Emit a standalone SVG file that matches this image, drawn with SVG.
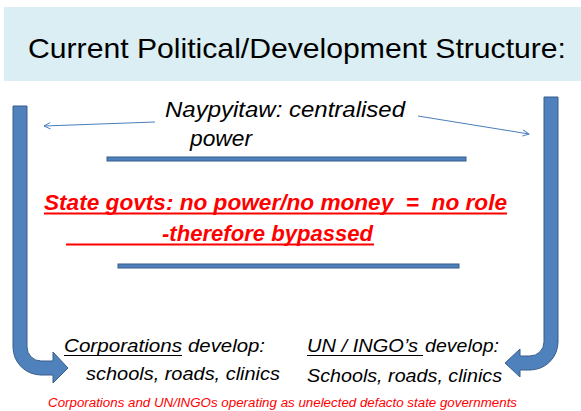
<svg xmlns="http://www.w3.org/2000/svg" width="581" height="411" viewBox="0 0 581 411">
<defs>
<style>
text{font-family:"Liberation Sans",Arial,sans-serif;white-space:pre;}
.blk{fill:#000;font-style:italic;}
.red{fill:#FF0000;font-style:italic;}
.bar{fill:#4F81BD;stroke:#385D8A;stroke-width:1;}
.thin{stroke:#4A7EBB;stroke-width:1;fill:none;}
.ul{stroke:#FF0000;stroke-width:2;}
.ulk{stroke:#000;stroke-width:1;}
</style>
<marker id="open" viewBox="0 0 10 10" refX="9" refY="5" markerWidth="8" markerHeight="8" orient="auto" markerUnits="userSpaceOnUse">
<path d="M1,1 L9,5 L1,9" fill="none" stroke="#4A7EBB" stroke-width="1.2"/>
</marker>
</defs>
<rect width="581" height="411" fill="#fff"/>
<g id="title">
<rect x="4" y="7" width="577" height="74" fill="#DAEEF3"/>
<text x="28" y="58" font-size="28" textLength="538" lengthAdjust="spacingAndGlyphs">Current Political/Development Structure:</text>
</g>
<g id="naypyitaw">
<text class="blk" x="165" y="117" font-size="22" textLength="240" lengthAdjust="spacingAndGlyphs">Naypyitaw: centralised</text>
<text class="blk" x="190" y="146" font-size="22" textLength="62" lengthAdjust="spacingAndGlyphs">power</text>
<rect class="bar" x="107" y="157" width="359" height="4"/>
</g>
<g id="state">
<text class="red" x="44" y="210" font-size="22" font-weight="bold" textLength="463" lengthAdjust="spacingAndGlyphs">State govts: no power/no money  =  no role</text>
<line class="ul" x1="44" y1="213.5" x2="507" y2="213.5"/>
<text class="red" x="162" y="241" font-size="22" font-weight="bold" textLength="211" lengthAdjust="spacingAndGlyphs">-therefore bypassed</text>
<line class="ul" x1="66" y1="244.5" x2="374" y2="244.5"/>
<rect class="bar" x="118" y="264" width="341" height="4"/>
</g>
<g id="corporations">
<text class="blk" x="64" y="352" font-size="19" textLength="118" lengthAdjust="spacingAndGlyphs">Corporations</text>
<line class="ulk" x1="64" y1="355.5" x2="182" y2="355.5"/>
<text class="blk" x="188" y="352" font-size="19" textLength="77" lengthAdjust="spacingAndGlyphs">develop:</text>
<text class="blk" x="86" y="380" font-size="19" textLength="194" lengthAdjust="spacingAndGlyphs">schools, roads, clinics</text>
</g>
<g id="ungo">
<text class="blk" x="307" y="352" font-size="19" textLength="111" lengthAdjust="spacingAndGlyphs">UN / INGO’s</text>
<line class="ulk" x1="307" y1="355.5" x2="423" y2="355.5"/>
<text class="blk" x="425" y="352" font-size="19" textLength="74" lengthAdjust="spacingAndGlyphs">develop:</text>
<text class="blk" x="307" y="382" font-size="19" textLength="195" lengthAdjust="spacingAndGlyphs">Schools, roads, clinics</text>
</g>
<g id="footer">
<text class="red" x="48" y="407" font-size="12" textLength="469" lengthAdjust="spacingAndGlyphs">Corporations and UN/INGOs operating as unelected defacto state governments</text>
</g>
<g id="connectors">
<path class="bar" d="M13,106 H27 V347 A14,14 0 0 0 41,361 H53 V352 L68,368 L53,383 V375 H41 A28,28 0 0 1 13,347 Z"/>
<path class="bar" d="M558,97 V342 A28,28 0 0 1 530,370 H520 V377 L505,363 L520,349 V356 H530 A14,14 0 0 0 544,342 V97 Z"/>
<line class="thin" x1="155" y1="122" x2="44" y2="126" marker-end="url(#open)"/>
<line class="thin" x1="418" y1="116" x2="529" y2="134" marker-end="url(#open)"/>
</g>
</svg>
